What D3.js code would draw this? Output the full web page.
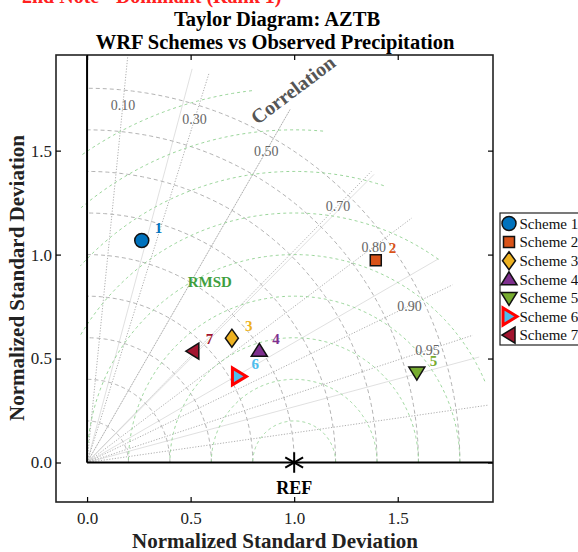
<!DOCTYPE html>
<html lang="en">
<head>
<meta charset="UTF-8">
<title>Taylor Diagram: AZTB</title>
<style>
    body { margin: 0; background: #fff; }
    svg { display: block; font-family: "Liberation Serif", "Times New Roman", serif; }
    .tick line { stroke: #000; stroke-width: 1.2px; }
    .tick text { font-size: 17px; fill: #222; }
</style>
</head>
<body>
<div id="chart"></div>
<script src="https://d3js.org/d3.v7.min.js"></script>
<script>
// ---- data ----
var schemes = ["Scheme 1", "Scheme 2", "Scheme 3", "Scheme 4", "Scheme 5", "Scheme 6", "Scheme 7"];
var stdNorm = [1.10, 1.70, 0.92, 0.99, 1.65, 0.84, 0.74];
var corr = [0.24, 0.82, 0.76, 0.84, 0.965, 0.87, 0.69];
var colors = ["#0072BD", "#D95319", "#EDB120", "#7E2F8E", "#77AC30", "#4DBEEE", "#A2142F"];
var shapes = ["circle", "square", "diamond", "tri-up", "tri-down", "tri-right", "tri-left"];

var corrLines = [0.1, 0.3, 0.5, 0.7, 0.8, 0.9, 0.95, 0.99];
var corrLabels = [0.1, 0.3, 0.5, 0.7, 0.8, 0.9, 0.95];
var polarAngles = [15, 30, 45, 60, 75];
var stdArcs = [0.2, 0.4, 0.6, 0.8, 1.0, 1.2, 1.4, 1.6, 1.8];
var rmsArcs = [0.2, 0.4, 0.6, 0.8, 1.0, 1.2, 1.4, 1.6, 1.8];
var axisTicks = [0, 0.5, 1.0, 1.5];
var rMax = 1.96;

var W = 578, H = 552;
var svg = d3.select("#chart").append("svg")
    .attr("width", W).attr("height", H)
    .style("background", "#fff");

var x = d3.scaleLinear().domain([-0.15, 1.96]).range([56, 493]);
var y = d3.scaleLinear().domain([-0.19, 1.96]).range([502, 55]);

function pt(r, deg) {
    var a = deg * Math.PI / 180;
    return [x(r * Math.cos(a)), y(r * Math.sin(a))];
}
function acosDeg(c) { return Math.acos(c) * 180 / Math.PI; }

// red note, mostly cut off at the top edge
svg.append("text")
    .attr("x", 22).attr("y", 3)
    .attr("font-size", 20).attr("font-weight", "bold")
    .attr("fill", "#ff2020")
    .text("2nd Note - Dominant (Rank 1)");

// titles
svg.append("text").attr("x", 277).attr("y", 26)
    .attr("text-anchor", "middle").attr("font-size", 20.5).attr("font-weight", "bold")
    .text("Taylor Diagram: AZTB");
svg.append("text").attr("x", 275).attr("y", 49)
    .attr("text-anchor", "middle").attr("font-size", 20.5).attr("font-weight", "bold")
    .text("WRF Schemes vs Observed Precipitation");

var g = svg.append("g");

// light polar grid lines every 15 deg
g.selectAll(".pgrid").data(polarAngles).enter().append("line")
    .attr("x1", x(0)).attr("y1", y(0))
    .attr("x2", function (d) { return pt(rMax, d)[0]; })
    .attr("y2", function (d) { return pt(rMax, d)[1]; })
    .attr("stroke", "#dcdcdc").attr("stroke-width", 0.9);

// correlation rays
g.selectAll(".cray").data(corrLines).enter().append("line")
    .attr("x1", x(0)).attr("y1", y(0))
    .attr("x2", function (d) { return pt(rMax, acosDeg(d))[0]; })
    .attr("y2", function (d) { return pt(rMax, acosDeg(d))[1]; })
    .attr("stroke", "#9a9a9a").attr("stroke-width", 0.8)
    .attr("stroke-dasharray", "1.2,1.6");

// std arcs (grey dashed, centred on origin)
var line = d3.line();
g.selectAll(".sarc").data(stdArcs).enter().append("path")
    .attr("d", function (r) {
        return line(d3.range(0, 90.01, 1).map(function (a) { return pt(r, a); }));
    })
    .attr("fill", "none").attr("stroke", "#aaaaaa").attr("stroke-width", 0.9)
    .attr("stroke-dasharray", "4,3");

// RMSD arcs (green dashed, centred on REF)
var rmsLine = d3.line()
    .defined(function (p) {
        return p[1] >= 0 && p[0] >= -0.035 && Math.hypot(p[0], p[1]) <= rMax;
    })
    .x(function (p) { return x(p[0]); })
    .y(function (p) { return y(p[1]); });
g.selectAll(".rarc").data(rmsArcs).enter().append("path")
    .attr("d", function (R) {
        return rmsLine(d3.range(0, 180.01, 0.5).map(function (a) {
            var t = a * Math.PI / 180;
            return [1 + R * Math.cos(t), R * Math.sin(t)];
        }));
    })
    .attr("fill", "none").attr("stroke", "#8fd08f").attr("stroke-width", 0.9)
    .attr("stroke-dasharray", "3,3");

// correlation labels
g.selectAll(".clab").data(corrLabels).enter().append("text")
    .attr("x", function (d) { return pt(1.73, acosDeg(d))[0]; })
    .attr("y", function (d) { return pt(1.73, acosDeg(d))[1]; })
    .attr("dy", "0.35em").attr("text-anchor", "middle")
    .attr("font-size", 14).attr("fill", "#666")
    .text(function (d) { return d3.format(".2f")(d); });

// axis lines at x=0 and y=0
svg.append("line").attr("x1", x(0)).attr("x2", x(0)).attr("y1", y(0)).attr("y2", y(1.96))
    .attr("stroke", "#000").attr("stroke-width", 2);
svg.append("line").attr("x1", x(0)).attr("x2", x(1.96)).attr("y1", y(0)).attr("y2", y(0))
    .attr("stroke", "#000").attr("stroke-width", 2);

// frame + ticks
svg.append("rect").attr("x", 56).attr("y", 55).attr("width", 437).attr("height", 447)
    .attr("fill", "none").attr("stroke", "#222").attr("stroke-width", 1.6);

var fmt = d3.format(".1f");
svg.append("g").attr("transform", "translate(0,502)")
    .call(d3.axisBottom(x).tickValues(axisTicks).tickSize(-5).tickPadding(10).tickFormat(fmt));
svg.append("g").attr("transform", "translate(0,55)")
    .call(d3.axisTop(x).tickValues(axisTicks).tickSize(-5).tickFormat(""));
svg.append("g").attr("transform", "translate(56,0)")
    .call(d3.axisLeft(y).tickValues(axisTicks).tickSize(-5).tickPadding(4).tickFormat(fmt));
svg.append("g").attr("transform", "translate(493,0)")
    .call(d3.axisRight(y).tickValues(axisTicks).tickSize(-5).tickFormat(""));
svg.selectAll(".domain").remove();
svg.selectAll(".tick text").attr("font-family", "Liberation Serif, serif");

// axis labels
svg.append("text").attr("x", 275).attr("y", 548)
    .attr("text-anchor", "middle").attr("font-size", 21).attr("font-weight", "bold")
    .attr("fill", "#222")
    .text("Normalized Standard Deviation");
svg.append("text").attr("transform", "translate(24,278) rotate(-90)")
    .attr("text-anchor", "middle").attr("font-size", 21).attr("font-weight", "bold")
    .attr("fill", "#222")
    .text("Normalized Standard Deviation");

// annotations
var cp = pt(2.05, 61);
svg.append("text")
    .attr("transform", "translate(" + cp[0] + "," + cp[1] + ") rotate(-37)")
    .attr("text-anchor", "middle").attr("dy", "0.35em")
    .attr("font-size", 20).attr("font-weight", "bold").attr("fill", "#555")
    .text("Correlation");
svg.append("text").attr("x", x(0.593)).attr("y", y(0.871)).attr("dy", "0.35em")
    .attr("text-anchor", "middle").attr("font-size", 15).attr("font-weight", "bold")
    .attr("fill", "#3fa03f").text("RMSD");
svg.append("text").attr("x", x(1.0)).attr("y", y(-0.151))
    .attr("text-anchor", "middle").attr("font-size", 18).attr("font-weight", "bold")
    .text("REF");
svg.append("path")
    .attr("transform", "translate(" + x(1) + "," + y(0) + ")")
    .attr("d", d3.symbol(d3.symbolAsterisk, 300)())
    .attr("fill", "none").attr("stroke", "#000").attr("stroke-width", 2);

// marker shapes
function markerPath(shape) {
    switch (shape) {
        case "circle": return d3.symbol(d3.symbolCircle, Math.PI * 49)();
        case "square": return "M-5.5,-5.5H5.5V5.5H-5.5Z";
        case "diamond": return "M0,-9L6.5,0L0,9L-6.5,0Z";
        case "tri-up": return "M0,-7.5L8,5.5L-8,5.5Z";
        case "tri-down": return "M0,7.5L8,-5.5L-8,-5.5Z";
        case "tri-right": return "M8,0L-6,8.5L-6,-8.5Z";
        case "tri-left": return "M-7,0L6,8L6,-8Z";
    }
}

var pts = schemes.map(function (s, i) {
    var a = Math.acos(corr[i]);
    return { name: s, i: i, px: x(stdNorm[i] * Math.cos(a)), py: y(stdNorm[i] * Math.sin(a)) };
});

var mk = svg.selectAll(".mk").data(pts).enter().append("g")
    .attr("transform", function (d) { return "translate(" + d.px + "," + d.py + ")"; });
mk.append("path")
    .attr("d", function (d) { return markerPath(shapes[d.i]); })
    .attr("fill", function (d) { return colors[d.i]; })
    .attr("stroke", function (d) { return d.i === 5 ? "#ff0000" : "#111"; })
    .attr("stroke-width", function (d) { return d.i === 5 ? 3 : 1.5; })
    .attr("stroke-linejoin", "miter");
mk.append("text")
    .attr("x", 13).attr("y", -7)
    .attr("font-size", 15).attr("font-weight", "bold")
    .attr("fill", function (d) { return colors[d.i]; })
    .text(function (d) { return d.i + 1; });

// legend
var lg = svg.append("g").attr("transform", "translate(500,213)");
lg.append("rect").attr("width", 100).attr("height", 132)
    .attr("fill", "#fff").attr("stroke", "#222").attr("stroke-width", 1.2);
var li = lg.selectAll(".li").data(pts).enter().append("g")
    .attr("transform", function (d) { return "translate(9," + (10.5 + d.i * 18.6) + ")"; });
li.append("path")
    .attr("d", function (d) { return markerPath(shapes[d.i]); })
    .attr("fill", function (d) { return colors[d.i]; })
    .attr("stroke", function (d) { return d.i === 5 ? "#ff0000" : "#111"; })
    .attr("stroke-width", function (d) { return d.i === 5 ? 3 : 1.5; });
li.append("text").attr("x", 10.5).attr("dy", "0.35em")
    .attr("font-size", 15).attr("fill", "#111")
    .text(function (d) { return d.name; });
</script>
</body>
</html>
